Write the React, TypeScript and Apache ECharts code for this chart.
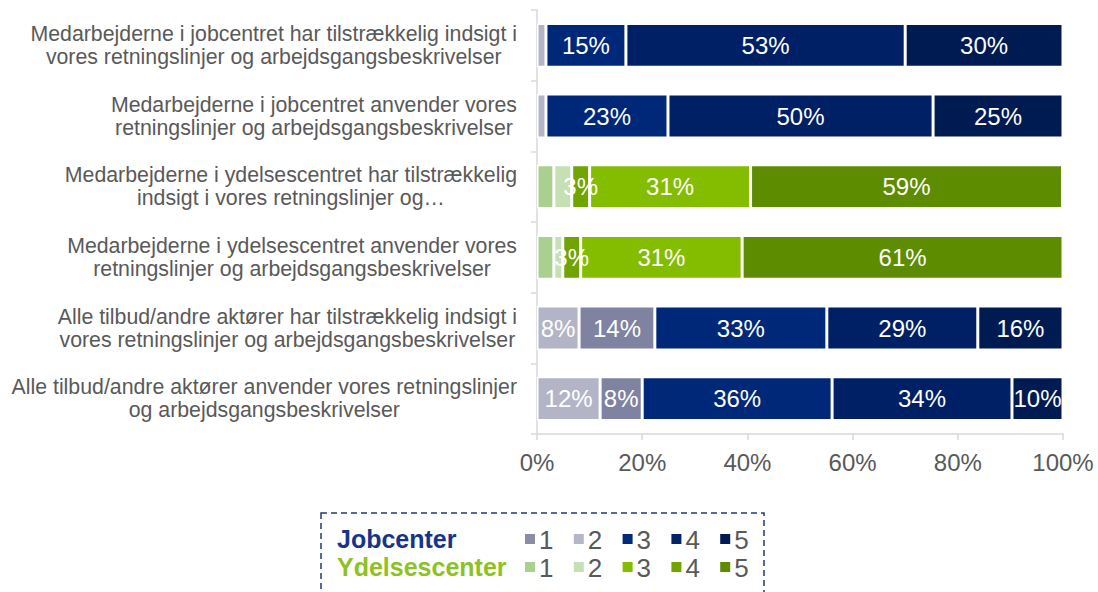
import React, { useEffect, useRef } from 'react';
import * as echarts from 'echarts';

const categories = [
  'Medarbejderne i jobcentret har tilstrækkelig indsigt i\nvores retningslinjer og arbejdsgangsbeskrivelser',
  'Medarbejderne i jobcentret anvender vores\nretningslinjer og arbejdsgangsbeskrivelser',
  'Medarbejderne i ydelsescentret har tilstrækkelig\nindsigt i vores retningslinjer og…',
  'Medarbejderne i ydelsescentret anvender vores\nretningslinjer og arbejdsgangsbeskrivelser',
  'Alle tilbud/andre aktører har tilstrækkelig indsigt i\nvores retningslinjer og arbejdsgangsbeskrivelser',
  'Alle tilbud/andre aktører anvender vores retningslinjer\nog arbejdsgangsbeskrivelser',
];
const rowGroup = ['job', 'job', 'yd', 'yd', 'job', 'job'];

// stacked segments, left to right
const seg1 = [1.7, 1.7, 3.2, 3.2, 8.0, 12.0];
const seg2 = [0, 0, 3.4, 1.7, 14.4, 8.0];
const seg3 = [15.2, 23.2, 3.4, 3.4, 32.7, 36.1];
const seg4 = [53.1, 50.4, 30.6, 30.7, 28.7, 34.2];
const seg5 = [30.0, 24.7, 59.3, 61.0, 16.2, 9.7];

const legendGroups = ['Jobcenter', 'Ydelsescenter'];
const legendNumbers = ['1', '2', '3', '4', '5'];

const barColors: Record<string, string[]> = {
  job: ['#b3b5c6', '#7f82a1', '#002878', '#002066', '#001a52'],
  yd: ['#a9d08e', '#c6e0b4', '#70a400', '#84bd00', '#5e8c00'],
};
const legendColors: Record<string, string[]> = {
  job: ['#8a8ca8', '#b5b7c8', '#002a7a', '#00226a', '#001a55'],
  yd: ['#a9d18e', '#c5e0b4', '#84bd00', '#72a400', '#5e8c00'],
};
const groupTitleColors = ['#17348a', '#8dc21f'];

const FONT = '"Liberation Sans", Arial, sans-serif';

export default function App() {
  const ref = useRef<HTMLDivElement>(null);

  useEffect(() => {
    if (!ref.current) return;
    const chart = echarts.init(ref.current, undefined, { renderer: 'svg' });
    const segs = [seg1, seg2, seg3, seg4, seg5];

    const series = segs.map((arr, si) => ({
      type: 'bar',
      stack: 'total',
      barWidth: '62%',
      data: arr.map((v, ri) => {
        const show = !(si < 2 && v < 5);
        return {
          value: v,
          itemStyle: { color: barColors[rowGroup[ri]][si] },
          label: { show },
        };
      }),
      itemStyle: { borderColor: '#ffffff', borderWidth: 1.5 },
      label: {
        show: true,
        position: 'inside',
        color: '#ffffff',
        fontSize: 24,
        fontFamily: FONT,
        formatter: (p: any) => Math.round(p.value) + '%',
      },
    }));

    const graphic: any[] = [
      {
        type: 'rect',
        shape: { x: 321, y: 513, width: 443, height: 100 },
        style: { fill: 'none', stroke: '#1f3a7a', lineWidth: 1.5, lineDash: [6, 4] },
        silent: true,
      },
    ];
    const groupKeys = ['job', 'yd'];
    const rowY = [539, 567];
    legendGroups.forEach((g, gi) => {
      graphic.push({
        type: 'text',
        x: 337,
        y: rowY[gi],
        style: {
          text: g,
          font: `bold 25px ${FONT}`,
          fill: groupTitleColors[gi],
          align: 'left',
          verticalAlign: 'middle',
          textAlign: 'left',
          textVerticalAlign: 'middle',
        },
      });
      legendNumbers.forEach((n, ni) => {
        const sx = 525 + ni * 48.8;
        graphic.push({
          type: 'rect',
          shape: { x: sx, y: rowY[gi] - 5, width: 10, height: 10 },
          style: { fill: legendColors[groupKeys[gi]][ni] },
        });
        graphic.push({
          type: 'text',
          x: sx + 14,
          y: rowY[gi] + 1,
          style: {
            text: n,
            font: `26px ${FONT}`,
            fill: '#595959',
            align: 'left',
            verticalAlign: 'middle',
            textAlign: 'left',
            textVerticalAlign: 'middle',
          },
        });
      });
    });

    chart.setOption({
      animation: false,
      textStyle: { fontFamily: FONT },
      grid: { left: 537, right: 35, top: 10, bottom: 158, containLabel: false },
      xAxis: {
        type: 'value',
        min: 0,
        max: 100,
        interval: 20,
        axisLine: { show: true, lineStyle: { color: '#d9d9d9', width: 1.5 } },
        axisTick: { show: true, length: 6, lineStyle: { color: '#d9d9d9', width: 1.5 } },
        splitLine: { show: false },
        axisLabel: {
          formatter: '{value}%',
          color: '#595959',
          fontSize: 24,
          fontFamily: FONT,
          margin: 16,
        },
      },
      yAxis: {
        type: 'category',
        inverse: true,
        data: categories,
        axisLine: { show: true, lineStyle: { color: '#d9d9d9', width: 1.5 } },
        axisTick: { show: true, length: 6, lineStyle: { color: '#d9d9d9', width: 1.5 } },
        axisLabel: {
          margin: 20,
          align: 'right',
          formatter: (v: string) => v.split('\n').map((l) => `{c|${l}}`).join('\n'),
          rich: {
            c: {
              align: 'center',
              fontSize: 21.3,
              lineHeight: 23,
              color: '#595959',
              fontFamily: FONT,
            },
          },
        },
      },
      series,
      graphic,
    });

    return () => chart.dispose();
  }, []);

  return (
    <div
      ref={ref}
      style={{ position: 'absolute', left: 0, top: 0, width: 1098, height: 592 }}
    />
  );
}
